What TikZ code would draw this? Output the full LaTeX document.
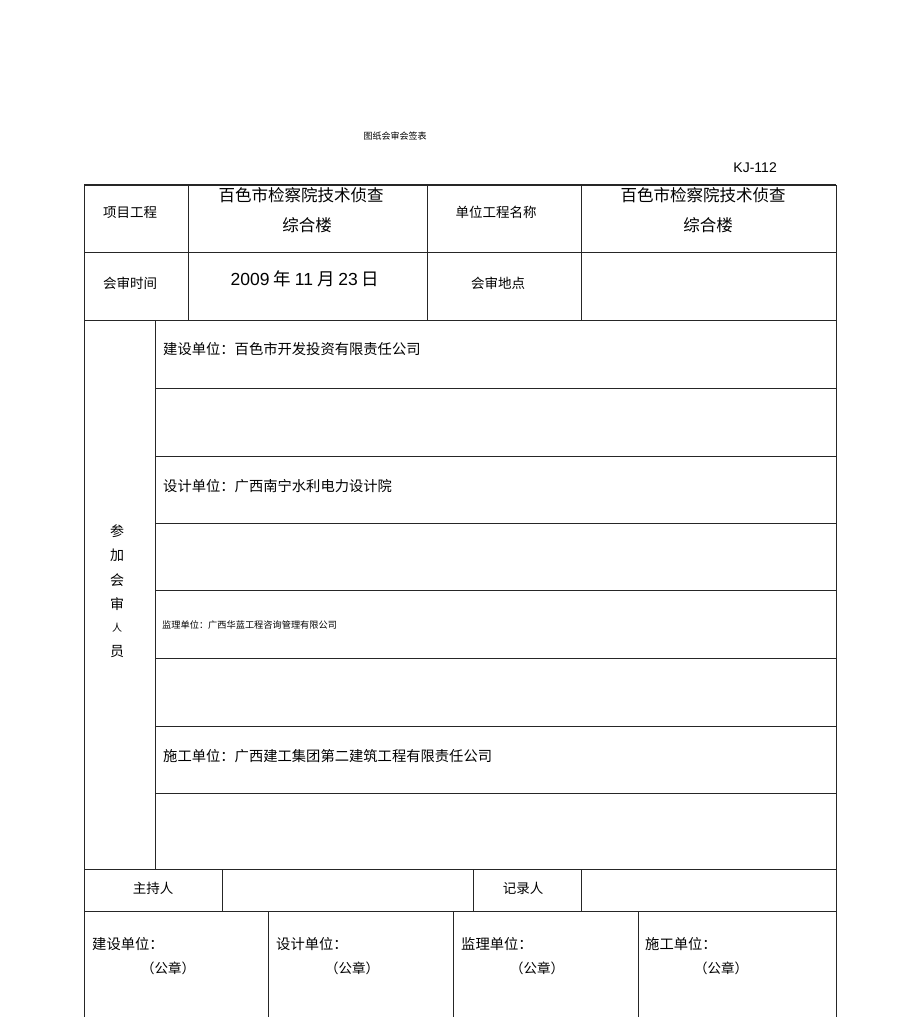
\documentclass[tikz,border=0pt]{standalone}
\usepackage{fontspec}
\setmainfont{Noto Sans CJK SC}
\newfontfamily\latinfont{Liberation Sans}

\tikzset{
  rule/.style={line width=0.9pt, black!85},
  cell/.style={inner sep=0pt, font=\fontsize{13.5}{15}\selectfont},
  bigcell/.style={inner sep=0pt, font=\fontsize{16.5}{18}\selectfont},
  party/.style={inner sep=0pt, anchor=west, font=\fontsize{14.3}{16}\selectfont},
  tiny/.style={inner sep=0pt, font=\fontsize{9}{10}\selectfont}
}

\begin{document}
\begin{tikzpicture}[x=1pt,y=-1pt]

	\useasboundingbox (0,0) rectangle (920,1017);

	% heading
	\node[tiny] (title) at (395,136) {图纸会审会签表};
	\node[inner sep=0pt, anchor=east, font=\latinfont\fontsize{14}{15}\selectfont] (code) at (777,168) {KJ-112};

	% outer frame (bottom is cut off)
	\draw[rule] (84,1017) -- (84,185) -- (836,185) -- (836,1017);
	\draw[rule, line width=1.4pt] (84,185) -- (836,185);
	% horizontal rules
	\draw[rule] (84,252) -- (836,252);
	\draw[rule] (84,320) -- (836,320);
	\draw[rule] (155,388) -- (836,388);
	\draw[rule] (155,456) -- (836,456);
	\draw[rule] (155,523) -- (836,523);
	\draw[rule] (155,590) -- (836,590);
	\draw[rule] (155,658) -- (836,658);
	\draw[rule] (155,726) -- (836,726);
	\draw[rule] (155,793) -- (836,793);
	\draw[rule] (84,869) -- (836,869);
	\draw[rule] (84,911) -- (836,911);
	% vertical rules
	\draw[rule] (188,185) -- (188,320);
	\draw[rule] (427,185) -- (427,320);
	\draw[rule] (581,185) -- (581,320);
	\draw[rule] (155,320) -- (155,869);
	\draw[rule] (222,869) -- (222,911);
	\draw[rule] (473,869) -- (473,911);
	\draw[rule] (581,869) -- (581,911);
	\draw[rule] (268,911) -- (268,1017);
	\draw[rule] (453,911) -- (453,1017);
	\draw[rule] (638,911) -- (638,1017);

	% first two rows
	\node[cell] (proj) at (130,212) {项目工程};
	\node[bigcell] (projA) at (301,195) {百色市检察院技术侦查};
	\node[bigcell] (projB) at (307,225) {综合楼};
	\node[cell] (unit) at (496,212) {单位工程名称};
	\node[bigcell] (unitA) at (703,195) {百色市检察院技术侦查};
	\node[bigcell] (unitB) at (708,225) {综合楼};
	\node[cell] (time) at (130,283) {会审时间};
	\node[bigcell, font=\fontsize{17.5}{19}\selectfont] (date) at (305,279) {{\latinfont 2009} 年 {\latinfont 11} 月 {\latinfont 23} 日};
	\node[cell] (place) at (498,283) {会审地点};

	% participants
	\foreach \c/\y/\s/\n in {参/531/14/a, 加/555/14/b, 会/580/14/c, 审/604/14/d, 人/628/10/e, 员/652/14/f}
		\node[inner sep=0pt, font=\fontsize{\s}{\s}\selectfont] (side\n) at (117,\y) {\c};
	\node[party] (owner) at (163,349) {建设单位：百色市开发投资有限责任公司};
	\node[party] (design) at (163,486) {设计单位：广西南宁水利电力设计院};
	\node[party, font=\fontsize{9.2}{10}\selectfont] (super) at (162,625) {监理单位：广西华蓝工程咨询管理有限公司};
	\node[party] (build) at (163,756) {施工单位：广西建工集团第二建筑工程有限责任公司};

	% chair and recorder
	\node[cell] (chair) at (153,888) {主持人};
	\node[cell] (record) at (523,888) {记录人};

	% seals
	\node[party] (sealA) at (92,944) {建设单位：};
	\node[cell] (stampA) at (168,968) {（公章）};
	\node[party] (sealB) at (276,944) {设计单位：};
	\node[cell] (stampB) at (352,968) {（公章）};
	\node[party] (sealC) at (461,944) {监理单位：};
	\node[cell] (stampC) at (537,968) {（公章）};
	\node[party] (sealD) at (645,944) {施工单位：};
	\node[cell] (stampD) at (721,968) {（公章）};

\end{tikzpicture}
\end{document}
